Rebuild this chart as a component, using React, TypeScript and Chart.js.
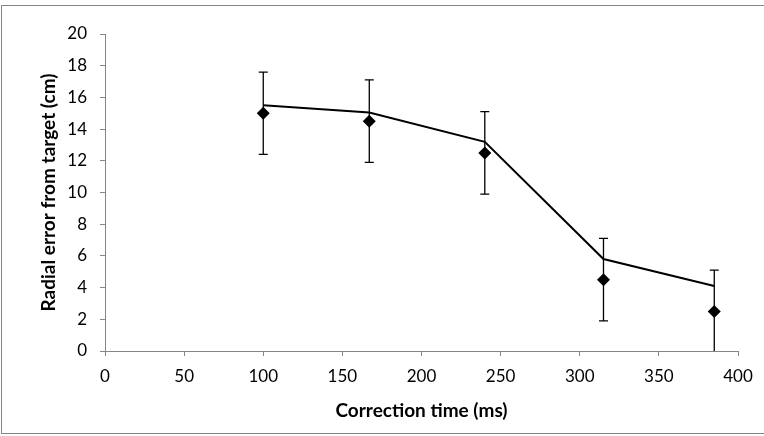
import React, { useEffect, useRef } from "react";
import { Chart, registerables } from "chart.js";

Chart.register(...registerables);

const correctionTimes = [100, 167, 240, 315, 385];
const measuredError = [15.0, 14.5, 12.5, 4.5, 2.5];
const errorBarSize = [2.6, 2.6, 2.6, 2.6, 2.6];
const modelFit = [15.5, 15.05, 13.2, 5.8, 4.1];

const xTitle = "Correction time (ms)";
const yTitle = "Radial error from target (cm)";

const AXIS_GRAY = "#868686";
const FONT = "Lato, 'DejaVu Sans', sans-serif";

const framePlugin = {
  id: "frame",
  beforeDraw(chart: any) {
    const ctx = chart.ctx;
    ctx.save();
    ctx.strokeStyle = AXIS_GRAY;
    ctx.lineWidth = 1;
    ctx.strokeRect(1.5, 5.5, 900, 428);
    ctx.restore();
  },
};

const errorBarPlugin = {
  id: "errorBars",
  afterDatasetsDraw(chart: any) {
    const ctx = chart.ctx;
    const xs = chart.scales.x;
    const ys = chart.scales.y;
    ctx.save();
    ctx.strokeStyle = "#000";
    ctx.lineWidth = 1.3;
    const cap = 4.5;
    correctionTimes.forEach((t, i) => {
      const x = xs.getPixelForValue(t);
      const lo = ys.getPixelForValue(Math.max(0, measuredError[i] - errorBarSize[i]));
      const hi = ys.getPixelForValue(measuredError[i] + errorBarSize[i]);
      ctx.beginPath();
      ctx.moveTo(x, lo);
      ctx.lineTo(x, hi);
      ctx.moveTo(x - cap, hi);
      ctx.lineTo(x + cap, hi);
      if (measuredError[i] - errorBarSize[i] > 0) {
        ctx.moveTo(x - cap, lo);
        ctx.lineTo(x + cap, lo);
      }
      ctx.stroke();
    });
    ctx.restore();
  },
};

export default function App() {
  const canvasRef = useRef<HTMLCanvasElement | null>(null);

  useEffect(() => {
    if (!canvasRef.current) return;
    const chart = new Chart(canvasRef.current, {
      type: "scatter",
      data: {
        datasets: [
          {
            type: "line",
            label: "Model",
            data: correctionTimes.map((t, i) => ({ x: t, y: modelFit[i] })),
            borderColor: "#000",
            borderWidth: 2,
            pointRadius: 0,
            fill: false,
            tension: 0,
            order: 2,
          },
          {
            type: "scatter",
            label: "Measured",
            data: correctionTimes.map((t, i) => ({ x: t, y: measuredError[i] })),
            pointStyle: "rectRot",
            pointRadius: 6.5,
            backgroundColor: "#000",
            borderColor: "#000",
            borderWidth: 0,
            order: 1,
          },
        ],
      },
      options: {
        animation: false,
        responsive: true,
        maintainAspectRatio: false,
        layout: { padding: { top: 34, right: 26, left: 0, bottom: 0 } },
        plugins: {
          legend: { display: false },
          tooltip: { enabled: false },
        },
        scales: {
          x: {
            type: "linear",
            min: 0,
            max: 400,
            ticks: {
              stepSize: 50,
              color: "#000",
              font: { family: FONT, size: 17 },
              padding: 10,
            },
            grid: {
              drawOnChartArea: false,
              drawTicks: true,
              tickLength: 5,
              color: AXIS_GRAY,
            },
            border: { color: AXIS_GRAY, width: 1 },
            title: {
              display: true,
              text: xTitle,
              color: "#000",
              font: { family: FONT, size: 19, weight: "bold" },
              padding: { top: 0, bottom: 14 },
            },
            afterFit(scale: any) {
              scale.height = 85;
            },
          },
          y: {
            type: "linear",
            min: 0,
            max: 20,
            ticks: {
              stepSize: 2,
              color: "#000",
              font: { family: FONT, size: 17 },
              padding: 13,
            },
            grid: {
              drawOnChartArea: false,
              drawTicks: true,
              tickLength: 5,
              color: AXIS_GRAY,
            },
            border: { color: AXIS_GRAY, width: 1 },
            title: {
              display: true,
              text: yTitle,
              color: "#000",
              font: { family: FONT, size: 19, weight: "bold" },
              padding: { top: 37, bottom: 0 },
            },
            afterFit(scale: any) {
              scale.width = 105;
            },
          },
        },
      },
      plugins: [framePlugin, errorBarPlugin],
    });
    return () => chart.destroy();
  }, []);

  return (
    <div style={{ position: "absolute", left: 0, top: 0, width: 764, height: 436, background: "#fff" }}>
      <canvas ref={canvasRef} />
    </div>
  );
}
